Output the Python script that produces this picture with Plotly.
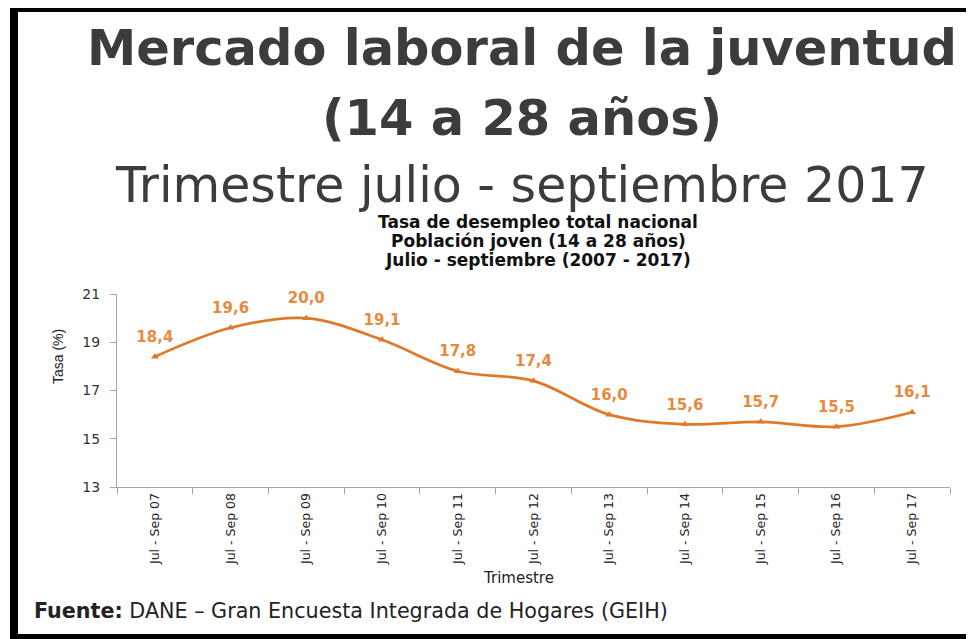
import plotly.graph_objects as go

periods = ["Jul - Sep 07", "Jul - Sep 08", "Jul - Sep 09", "Jul - Sep 10", "Jul - Sep 11",
           "Jul - Sep 12", "Jul - Sep 13", "Jul - Sep 14", "Jul - Sep 15", "Jul - Sep 16",
           "Jul - Sep 17"]
tasa = [18.4, 19.6, 20.0, 19.1, 17.8, 17.4, 16.0, 15.6, 15.7, 15.5, 16.1]
y_ticks = [13, 15, 17, 19, 21]

# the page body adds an 8px margin; work in reference pixels and shift
OFF = 8
W, H = 974 - OFF, 639 - OFF
L = 117 - OFF
T = 294 - OFF
R = W - (950 - OFF)
B = H - (487 - OFF)
PW, PH = W - L - R, H - T - B

def fx(px):
    return (px - OFF - L) / PW

def fy(py):
    return 1 - (py - OFF - T) / PH

ORANGE = "#E0782A"
LABEL = "#E68A3E"
AXIS = "#A6A6A6"

labels = [f"{v:.1f}".replace(".", ",") for v in tasa]

fig = go.Figure()
fig.add_trace(go.Scatter(
    x=periods, y=tasa, mode="lines+markers",
    line=dict(color=ORANGE, width=2.7, shape="spline", smoothing=1.0),
    marker=dict(symbol="triangle-up", size=7, color=ORANGE),
    cliponaxis=False, hoverinfo="skip", showlegend=False,
))
fig.add_trace(go.Scatter(
    x=periods, y=tasa, mode="markers+text",
    marker=dict(size=16, color="rgba(0,0,0,0)"),
    text=labels, textposition="top center",
    textfont=dict(family="DejaVu Sans", size=15, color=LABEL, weight="bold"),
    cliponaxis=False, hoverinfo="skip", showlegend=False,
))

fig.update_layout(
    width=W, height=H,
    margin=dict(l=L, r=R, t=T, b=B),
    paper_bgcolor="white", plot_bgcolor="white",
    showlegend=False,
    xaxis=dict(
        type="category", tickson="boundaries", range=[-0.5, len(periods) - 0.5],
        showgrid=False, zeroline=False,
        showline=True, linecolor=AXIS, linewidth=1,
        ticks="outside", ticklen=6, tickcolor=AXIS,
        tickangle=-90,
        tickfont=dict(family="DejaVu Sans", size=12.5, color="#222222"),
    ),
    yaxis=dict(
        range=[13, 21], tickvals=y_ticks,
        showgrid=False, zeroline=False,
        showline=True, linecolor=AXIS, linewidth=1,
        ticks="outside", ticklen=6, tickcolor=AXIS,
        ticklabelstandoff=7,
        tickfont=dict(family="DejaVu Sans", size=14, color="#333333"),
    ),
)

ann = []
def add(text, px, py, size, color, family="DejaVu Sans", angle=0, xanchor="center"):
    ann.append(dict(text=text, x=fx(px), y=fy(py), xref="paper", yref="paper",
                    xanchor=xanchor, yanchor="middle", showarrow=False, textangle=angle,
                    font=dict(family=family, size=size, color=color)))

add("<b>Mercado laboral de la juventud</b>", 522, 48, 49.5, "#3C3C3C")
add("<b>(14 a 28 años)</b>", 522, 118, 49.5, "#3C3C3C")
add("Trimestre julio - septiembre 2017", 522, 185, 49, "#3C3C3C")
add("<b>Tasa de desempleo total nacional</b>", 538, 222, 17, "#111111")
add("<b>Población joven (14 a 28 años)</b>", 538, 241, 17, "#111111")
add("<b>Julio - septiembre (2007 - 2017)</b>", 538, 260, 17, "#111111")
add("Tasa (%)", 58, 357, 14, "#222222", family="Liberation Sans, Arial", angle=-90)
add("Trimestre", 518, 578, 15, "#222222")
add("<b>Fuente:</b> DANE – Gran Encuesta Integrada de Hogares (GEIH)", 32, 611, 20.7, "#222222",
    xanchor="left")
fig.update_layout(annotations=ann)

# black frame (top, left, bottom)
shapes = [
    dict(type="rect", x0=fx(10), x1=fx(974), y0=fy(4), y1=fy(12)),
    dict(type="rect", x0=fx(10), x1=fx(18), y0=fy(4), y1=fy(639)),
    dict(type="rect", x0=fx(10), x1=fx(974), y0=fy(634), y1=fy(639)),
]
for s in shapes:
    s.update(xref="paper", yref="paper", fillcolor="black", line=dict(width=0), layer="above")
fig.update_layout(shapes=shapes)

fig.write_html("out.html")
